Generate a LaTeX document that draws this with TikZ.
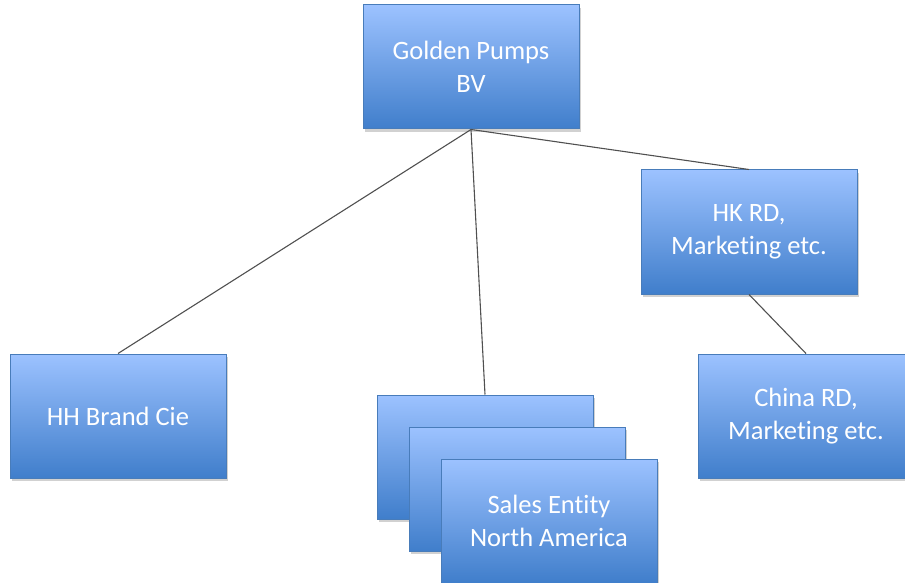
\documentclass[tikz,border=0pt]{standalone}
\usepackage{fontspec}
\setmainfont{Carlito}[Ligatures={NoCommon}]
\usetikzlibrary{shadows}
\definecolor{boxtop}{RGB}{156,194,255}
\definecolor{boxbot}{RGB}{64,126,203}
\definecolor{boxline}{RGB}{72,124,186}
\definecolor{linkgray}{RGB}{80,80,80}
\tikzset{
  entity/.style={rectangle, draw=boxline, line width=1pt, top color=boxtop, bottom color=boxbot,
    minimum width=216pt, minimum height=124pt, inner sep=0pt, align=center, text=white,
    font=\fontsize{26.5}{33}\selectfont,
    drop shadow={shadow xshift=2pt, shadow yshift=-3pt, opacity=0.3, fill=black!60}},
  link/.style={draw=linkgray, line width=1.1pt}
}
\begin{document}
\begin{tikzpicture}[x=1pt, y=-1pt]
  \useasboundingbox (0, 0) rectangle (905, 583);
  \node [entity] (golden) at (471, 67) {Golden Pumps\\BV};
  \node [entity] (hk) at (749, 232) {HK RD,\\Marketing etc.};
  \node [entity] (hh) at (118, 416) {HH Brand Cie};
  \node [entity] (china) at (806, 416) {China RD,\\Marketing etc.};
  \node [entity] (salesA) at (485, 457) {};
  \node [entity] (salesB) at (517, 489) {};
  \node [entity] (salesC) at (549, 521) {Sales Entity\\North America};
  \draw [link] (golden.south) -- (hh.north);
  \draw [link] (golden.south) -- (salesA.north);
  \draw [link] (golden.south) -- (hk.north);
  \draw [link] (hk.south) -- (china.north);
\end{tikzpicture}
\end{document}
